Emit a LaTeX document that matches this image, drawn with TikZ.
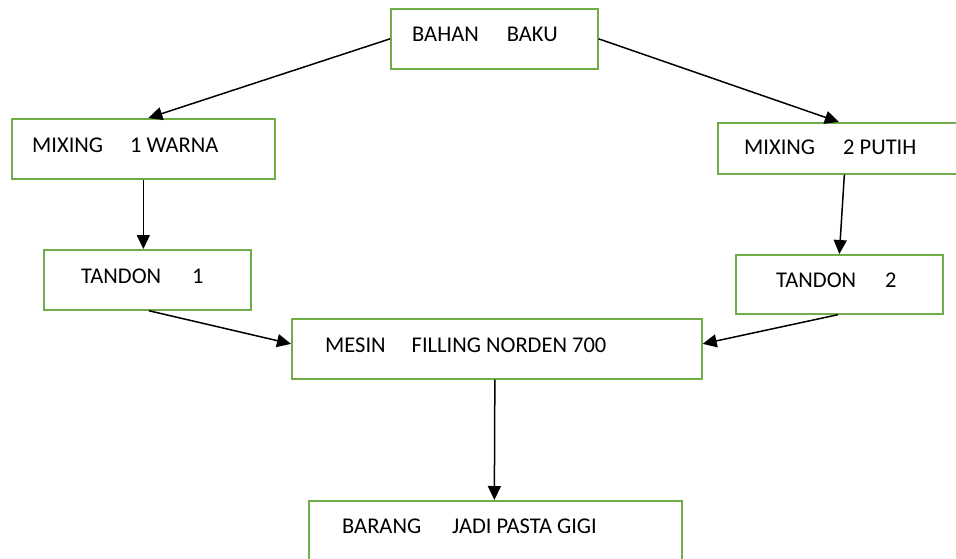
\documentclass[tikz,border=0pt]{standalone}
\usepackage{fontspec}
\setmainfont{Carlito}
\usetikzlibrary{arrows.meta}
\definecolor{boxgreen}{HTML}{70AD47}
\tikzset{
  box/.style={draw=boxgreen, line width=1.7pt, fill=white, inner sep=0pt},
  label/.style={anchor=base west, inner sep=0pt, font=\fontsize{22.5}{26}\selectfont, text=black},
  flow/.style={draw=black, line width=1.5pt, -{Triangle[length=14pt,width=13pt]}},
}
\newcommand{\boxat}[3]{%
  \node[box, anchor=north west, minimum width=#2pt, minimum height=#3pt] at (#1) }
\begin{document}
\begin{tikzpicture}[x=1pt,y=-1pt]
\useasboundingbox (0,0) rectangle (956,558);

% process boxes
\boxat{390,8}{207}{60} (bb) {};
\boxat{11,118}{263}{60} (m1) {};
\boxat{717,122}{250}{51} (m2) {};
\boxat{43,249}{207}{60} (t1) {};
\boxat{735,254}{207}{59} (t2) {};
\boxat{291,318}{410}{60} (ms) {};
\boxat{308,500}{373}{70} (br) {};

% box texts
\node[label] (bb-t) at (412,41) {BAHAN\hspace{28pt}BAKU};
\node[label] (m1-t) at (32,152) {MIXING\hspace{27pt}1 WARNA};
\node[label] (m2-t) at (744,154) {MIXING\hspace{28pt}2 PUTIH};
\node[label] (t1-t) at (81,283) {TANDON\hspace{31pt}1};
\node[label] (t2-t) at (776,287) {TANDON\hspace{29pt}2};
\node[label] (ms-t) at (325,352) {MESIN\hspace{26pt}FILLING NORDEN 700};
\node[label] (br-t) at (342,533) {BARANG\hspace{31pt}JADI PASTA GIGI};

% connectors
\draw[flow] (bb.west) -- ([xshift=5pt]m1.north);
\draw[flow] (bb.east) -- ([xshift=-4pt]m2.north);
\draw[flow] (m1.south) -- ([xshift=-4pt]t1.north);
\draw[flow] ([xshift=1.5pt]m2.south) -- (t2.north);
\draw[flow] ([xshift=1.5pt]t1.south) -- ([yshift=5pt]ms.west);
\draw[flow] ([xshift=-1.5pt]t2.south) -- ([yshift=5pt]ms.east);
\draw[flow] ([xshift=-2pt]ms.south) -- ([xshift=-1pt]br.north);
\end{tikzpicture}
\end{document}
